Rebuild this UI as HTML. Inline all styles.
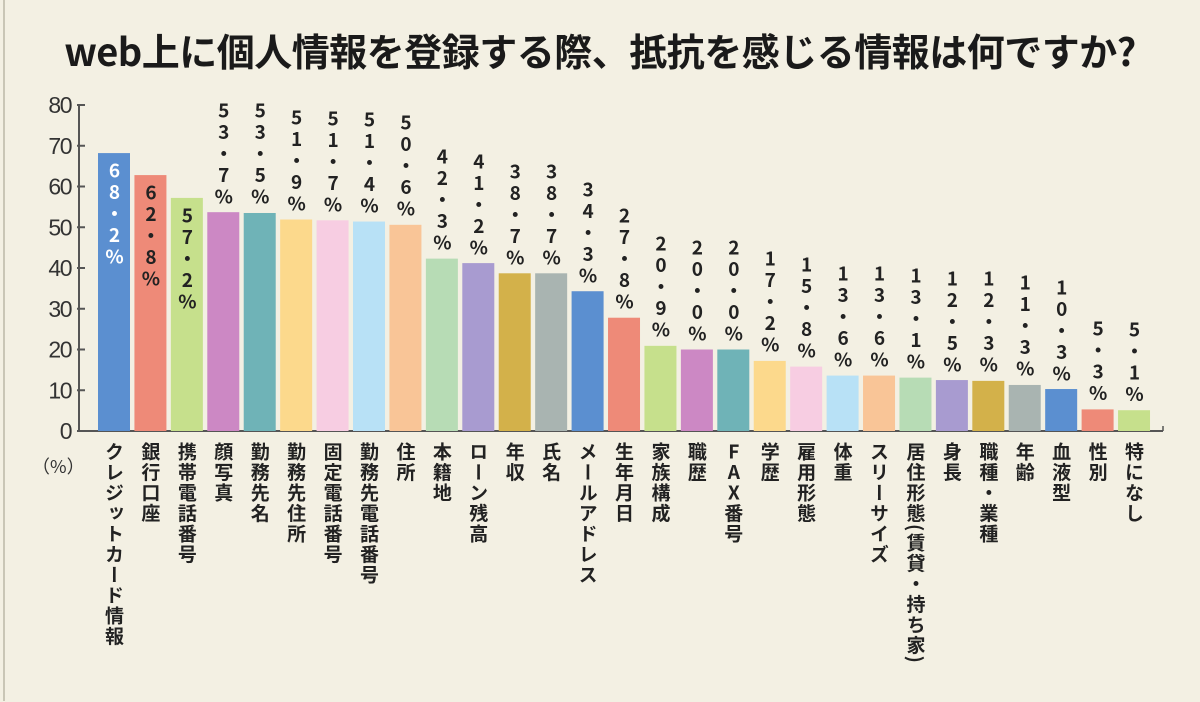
<!DOCTYPE html>
<html><head><meta charset="utf-8">
<style>
html,body{margin:0;padding:0;}
body{width:1200px;height:702px;overflow:hidden;background:#f3f0e3;font-family:"Liberation Sans","Noto Sans CJK JP",sans-serif;position:relative;}
#frame{position:absolute;left:3px;top:0;width:1195px;height:701px;border-left:2px solid #c9c6b6;}
#title{position:absolute;left:0;width:1200px;top:22px;text-align:center;font-size:38px;font-weight:bold;color:#1a1a1a;font-family:"Noto Sans CJK JP",sans-serif;letter-spacing:-0.5px;}
svg{position:absolute;left:0;top:0;}
.vt{position:absolute;writing-mode:vertical-rl;text-orientation:upright;font-family:"Noto Sans CJK JP",sans-serif;font-weight:bold;color:#222;}
.vm{text-orientation:mixed;}
.up{text-orientation:upright;}
</style></head><body>
<div id="frame"></div>
<div id="title">web上に個人情報を登録する際、抵抗を感じる情報は何ですか?</div>
<svg id="chart" width="1200" height="702"></svg>
<div id="labels"></div>
<script>
const categories=["クレジットカード情報","銀行口座","携帯電話番号","顔写真","勤務先名","勤務先住所","固定電話番号","勤務先電話番号","住所","本籍地","ローン残高","年収","氏名","メールアドレス","生年月日","家族構成","職歴","FAX番号","学歴","雇用形態","体重","スリーサイズ","居住形態(賃貸・持ち家)","身長","職種・業種","年齢","血液型","性別","特になし"];
const values=[68.2,62.8,57.2,53.7,53.5,51.9,51.7,51.4,50.6,42.3,41.2,38.7,38.7,34.3,27.8,20.9,20.0,20.0,17.2,15.8,13.6,13.6,13.1,12.5,12.3,11.3,10.3,5.3,5.1];
const yTicks=[0,10,20,30,40,50,60,70,80];
const palette=["#5b8fd0","#ee8a78","#c6e08c","#cc88c4","#6fb3b7","#fcd98c","#f7cde2","#b8e1f6","#f9c597","#b7dcb5","#a89bd0","#d3b14a","#a9b4b1"];

const svg=document.getElementById('chart');
const layer=document.getElementById('labels');
const NS="http://www.w3.org/2000/svg";
const y0=431,yTop=105,yMax=80;
function yScale(v){return y0-(v/yMax)*(y0-yTop);}
const x0=98,pitch=36.43,bw=32;
function xScale(i){return x0+i*pitch;}

function mk(tag,attrs){const e=document.createElementNS(NS,tag);for(const k in attrs)e.setAttribute(k,attrs[k]);svg.appendChild(e);return e;}

const ya=mk('line',{x1:79,y1:yTop,x2:79,y2:y0,stroke:'#555','stroke-width':2});


const xa=mk('line',{x1:78,y1:y0,x2:1163,y2:y0,stroke:'#555','stroke-width':2});


const xe=mk('line',{x1:1163,y1:y0,x2:1163,y2:y0-5,stroke:'#555','stroke-width':1.5});



yTicks.forEach(t=>{
  const y=yScale(t);
  const tk=mk('line',{x1:77,y1:y,x2:85,y2:y,stroke:'#555','stroke-width':2});
  
  
  const tx=mk('text',{x:71,y:y+8,'text-anchor':'end','font-size':23,fill:'#333','font-family':'Liberation Sans, sans-serif','letter-spacing':'-1.5'});
  tx.textContent=String(t);
  
  
});

const unit=document.createElement('div');
unit.textContent='（%）';
unit.style.cssText='position:absolute;left:32px;top:453px;font-size:18px;color:#333;font-family:"Noto Sans CJK JP",sans-serif;';


layer.appendChild(unit);

values.forEach((v,i)=>{
  const x=xScale(i);
  const top=yScale(v);
  const r=mk('rect',{x:x,y:top,width:bw,height:y0-top,fill:palette[i%palette.length]});
  
  

  const s=v.toFixed(1).replace('.','・')+'%';
  const lbl=document.createElement('div');
  lbl.className='vt';
  lbl.textContent=s;
  const n=s.length, lh=21.5, h=n*lh;
  const inside=i<3;
  lbl.style.cssText+='left:'+(x+bw/2-11)+'px;width:22px;font-size:19px;line-height:22px;letter-spacing:2.5px;top:'+(inside?top+8:top-h-4)+'px;color:'+(i===0?'#fff':'#222')+';';
  
  
  layer.appendChild(lbl);

  const c=document.createElement('div');
  c.className='vt vm';
  const txt=categories[i];
  if(txt.startsWith('FAX')){
    const sp=document.createElement('span');
    sp.className='up';
    sp.textContent='FAX';
    c.appendChild(sp);
    c.appendChild(document.createTextNode(txt.slice(3)));
  } else {
    c.textContent=txt;
  }
  c.style.cssText+='left:'+(x+bw/2-11)+'px;width:22px;top:442px;font-size:19px;line-height:22px;letter-spacing:1.5px;';
  
  
  layer.appendChild(c);
});
</script>
</body></html>
